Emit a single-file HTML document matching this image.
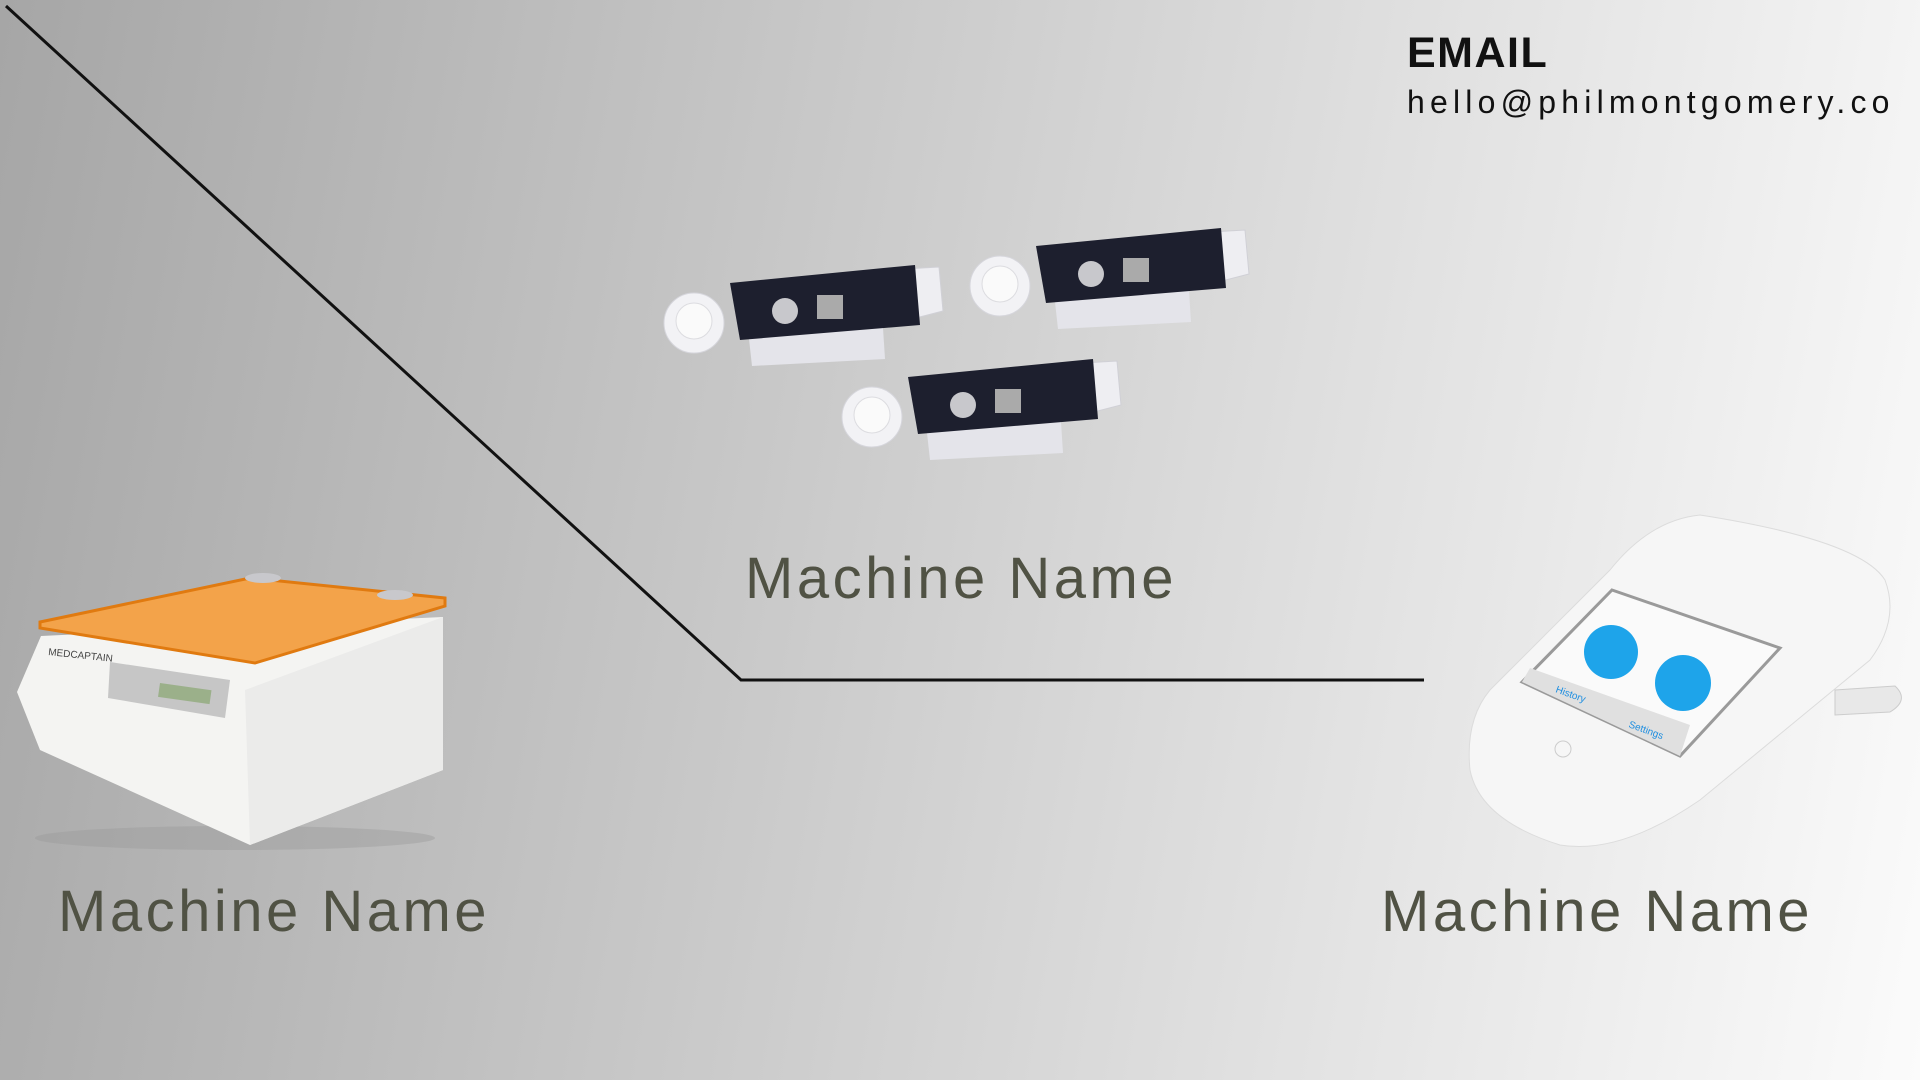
<!DOCTYPE html>
<html><head><meta charset="utf-8"><style>
html,body{margin:0;padding:0}
body{width:1920px;height:1080px;overflow:hidden;position:relative;
background:linear-gradient(100deg,#a6a6a6 0%,#c4c4c4 35%,#e2e2e2 70%,#fbfbfb 100%);
font-family:"Liberation Sans",sans-serif}
.lbl{position:absolute;font-size:58px;color:#505244;letter-spacing:3.5px;line-height:1;white-space:nowrap}
svg{position:absolute;left:0;top:0}
</style></head><body>
<svg width="1920" height="1080" viewBox="0 0 1920 1080">
<defs>
<g id="cart">
<path d="M80,60 L215,52 L218,98 L85,105 Z" fill="#e4e4ea"/>
<path d="M238,8 L272,6 L276,50 L245,58 Z" fill="#eeeef2" stroke="#d0d0d6"/>
<circle cx="27" cy="62" r="30" fill="#f2f2f5" stroke="#d6d6dc"/>
<circle cx="27" cy="60" r="18" fill="#fafafa" stroke="#dcdce0"/>
<path d="M63,22 L248,4 L253,64 L73,79 Z" fill="#1d1f2e"/>
<circle cx="118" cy="50" r="13" fill="#c8c8cc"/>
<rect x="150" y="34" width="26" height="24" fill="#aaa"/>
</g>
</defs>
<polyline points="6,6 741,680 1424,680" fill="none" stroke="#111" stroke-width="3"/>
<use href="#cart" transform="translate(667,261)"/>
<use href="#cart" transform="translate(973,224)"/>
<use href="#cart" transform="translate(845,355)"/>
<ellipse cx="235" cy="838" rx="200" ry="12" fill="#999" opacity="0.4"/>
<path d="M41,636 L443,617 L443,770 L250,845 L40,750 L17,692 Z" fill="#f4f4f2"/>
<path d="M245,690 L443,617 L443,770 L250,845 Z" fill="#ebebea"/>
<path d="M40,622 L250,578 L445,598 L445,606 L255,663 L40,628 Z" fill="#f3a34a" stroke="#e07a10" stroke-width="3"/>
<ellipse cx="263" cy="578" rx="18" ry="5" fill="#c8c8cc"/>
<ellipse cx="395" cy="595" rx="18" ry="5" fill="#c8c8cc"/>
<path d="M110,662 L230,680 L225,718 L108,698 Z" fill="#c6c6c6"/>
<rect x="160" y="683" width="52" height="14" fill="#9bb08a" transform="rotate(8 160 683)"/>
<text x="48" y="655" font-size="10" fill="#444" transform="rotate(6 48 655)">MEDCAPTAIN</text>
<path d="M1700,515 Q1860,540 1885,580 Q1900,620 1870,660 L1700,800 Q1620,855 1560,845 Q1480,820 1470,770 Q1465,720 1490,690 L1610,570 Q1650,520 1700,515 Z" fill="#f6f6f6" stroke="#dcdcdc"/>
<path d="M1612,590 L1780,648 L1680,756 L1522,682 Z" fill="#fafafa" stroke="#9a9a9a" stroke-width="3"/>
<path d="M1530,668 L1690,725 L1680,756 L1522,682 Z" fill="#e0e0e0"/>
<circle cx="1611" cy="652" r="27" fill="#1ea4ea"/>
<circle cx="1683" cy="683" r="28" fill="#1ea4ea"/>
<text x="1555" y="692" font-size="10" fill="#1e8ee0" transform="rotate(20 1555 692)">History</text>
<text x="1628" y="727" font-size="10" fill="#1e8ee0" transform="rotate(20 1628 727)">Settings</text>
<circle cx="1563" cy="749" r="8" fill="none" stroke="#ccc"/>
<path d="M1835,690 L1895,686 Q1910,700 1890,712 L1835,715 Z" fill="#e8e8e8" stroke="#ccc"/>
</svg>
<div style="position:absolute;left:1407px;top:29px;font-size:43px;font-weight:bold;color:#111;letter-spacing:1.5px">EMAIL</div>
<div style="position:absolute;left:1407px;top:84px;font-size:32px;color:#111;letter-spacing:5.2px">hello@philmontgomery.co</div>
<div class="lbl" style="left:745px;top:550px">Machine Name</div>
<div class="lbl" style="left:58px;top:883px">Machine Name</div>
<div class="lbl" style="left:1381px;top:883px">Machine Name</div>
</body></html>
